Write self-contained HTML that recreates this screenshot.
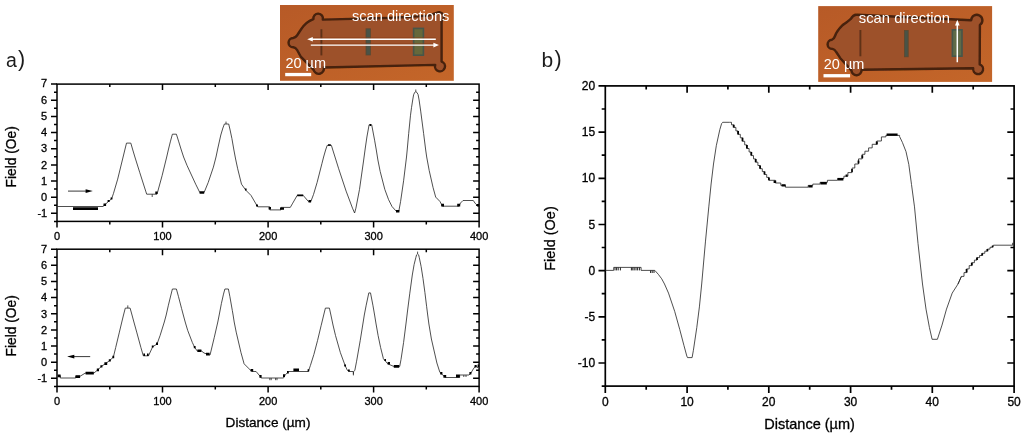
<!DOCTYPE html>
<html><head><meta charset="utf-8"><title>Field vs distance</title>
<style>
html,body{margin:0;padding:0;background:#fff}
body{width:1024px;height:438px;overflow:hidden}
svg{display:block}
text{font-family:"Liberation Sans",sans-serif;fill:#000}
.tk text,.lb{stroke:#000;stroke-width:0.3px}
.ax{stroke:#000;fill:none}
.cv{stroke:#222;stroke-width:0.8;fill:none;stroke-linejoin:round}
.mk{fill:#000}
</style></head><body>
<svg width="1024" height="438" viewBox="0 0 1024 438">
<defs>
<filter id="b1" x="-10%" y="-10%" width="120%" height="120%"><feGaussianBlur stdDeviation="0.6"/></filter>
<filter id="b2" x="-10%" y="-10%" width="120%" height="120%"><feGaussianBlur stdDeviation="0.6"/></filter>
<filter id="b3" x="-20%" y="-20%" width="140%" height="140%"><feGaussianBlur stdDeviation="6"/></filter>
</defs>
<rect width="1024" height="438" fill="#fff"/>

<!-- panel a top -->
<rect class="ax" stroke-width="1.5" x="57" y="84.1" width="422.1" height="137.3"/>
<path class="ax" stroke-width="1.5" d="M57 221.4v6M162.5 221.4v6M162.5 84.1v6M268.1 221.4v6M268.1 84.1v6M373.6 221.4v6M373.6 84.1v6M479.1 221.4v6M109.8 221.4v3M109.8 84.1v3M215.3 221.4v3M215.3 84.1v3M320.8 221.4v3M320.8 84.1v3M426.3 221.4v3M426.3 84.1v3M57 213.3h-6M479.1 213.3h-6M57 197.2h-6M479.1 197.2h-6M57 181h-6M479.1 181h-6M57 164.9h-6M479.1 164.9h-6M57 148.7h-6M479.1 148.7h-6M57 132.6h-6M479.1 132.6h-6M57 116.4h-6M479.1 116.4h-6M57 100.3h-6M479.1 100.3h-6M57 84.1h-6M57 221.4h-3M57 205.2h-3M479.1 205.2h-3M57 189.1h-3M479.1 189.1h-3M57 172.9h-3M479.1 172.9h-3M57 156.8h-3M479.1 156.8h-3M57 140.6h-3M479.1 140.6h-3M57 124.5h-3M479.1 124.5h-3M57 108.3h-3M479.1 108.3h-3M57 92.2h-3M479.1 92.2h-3"/>
<!-- panel a bottom -->
<rect class="ax" stroke-width="1.5" x="57" y="249.2" width="422.1" height="137.2"/>
<path class="ax" stroke-width="1.5" d="M57 386.4v6M162.5 386.4v6M162.5 249.2v6M268.1 386.4v6M268.1 249.2v6M373.6 386.4v6M373.6 249.2v6M479.1 386.4v6M109.8 386.4v3M109.8 249.2v3M215.3 386.4v3M215.3 249.2v3M320.8 386.4v3M320.8 249.2v3M426.3 386.4v3M426.3 249.2v3M57 378.3h-6M479.1 378.3h-6M57 362.2h-6M479.1 362.2h-6M57 346h-6M479.1 346h-6M57 329.9h-6M479.1 329.9h-6M57 313.8h-6M479.1 313.8h-6M57 297.6h-6M479.1 297.6h-6M57 281.5h-6M479.1 281.5h-6M57 265.3h-6M479.1 265.3h-6M57 249.2h-6M57 386.4h-3M57 370.3h-3M479.1 370.3h-3M57 354.1h-3M479.1 354.1h-3M57 338h-3M479.1 338h-3M57 321.8h-3M479.1 321.8h-3M57 305.7h-3M479.1 305.7h-3M57 289.6h-3M479.1 289.6h-3M57 273.4h-3M479.1 273.4h-3M57 257.3h-3M479.1 257.3h-3"/>
<g class="tk" font-size="11" text-anchor="end">
<text x="47.2" y="217">-1</text>
<text x="47.2" y="200.9">0</text>
<text x="47.2" y="184.7">1</text>
<text x="47.2" y="168.6">2</text>
<text x="47.2" y="152.4">3</text>
<text x="47.2" y="136.3">4</text>
<text x="47.2" y="120.1">5</text>
<text x="47.2" y="104">6</text>
<text x="47.2" y="87.3">7</text>
<text x="47.2" y="382">-1</text>
<text x="47.2" y="365.9">0</text>
<text x="47.2" y="349.7">1</text>
<text x="47.2" y="333.6">2</text>
<text x="47.2" y="317.5">3</text>
<text x="47.2" y="301.3">4</text>
<text x="47.2" y="285.2">5</text>
<text x="47.2" y="269">6</text>
<text x="47.2" y="252.9">7</text>
</g>
<g class="tk" font-size="11" text-anchor="middle">
<text x="57" y="239.9">0</text>
<text x="162.5" y="239.9">100</text>
<text x="268.1" y="239.9">200</text>
<text x="373.6" y="239.9">300</text>
<text x="479.1" y="239.9">400</text>
<text x="57" y="404.8">0</text>
<text x="162.5" y="404.8">100</text>
<text x="268.1" y="404.8">200</text>
<text x="373.6" y="404.8">300</text>
<text x="479.1" y="404.8">400</text>
</g>
<text class="lb" font-size="13.8" text-anchor="middle" transform="translate(16.2 156.8) rotate(-90)">Field (Oe)</text>
<text class="lb" font-size="13.8" text-anchor="middle" transform="translate(16.2 325.8) rotate(-90)">Field (Oe)</text>
<text class="lb" font-size="13.6" text-anchor="middle" x="268" y="426.7">Distance (µm)</text>
<text font-size="19.5" x="5.9" y="67" style="fill:#1c1c1c">a</text><text font-size="21.5" x="18" y="66.4" style="fill:#1c1c1c">)</text>
<polyline class="cv" points="57.2,206.5 103,206.5 104.8,204.8 109,201 111.6,198.8 113.4,193.7 117.7,179.1 123.1,157 124.8,150 126.5,143.1 130.8,143.1 132.8,150 134.9,157 139.7,172.3 145.7,191.1 146.7,194.2 157,194.2 157.9,191 162.1,175.7 166.7,157 168.3,150 170.3,141.9 172.4,134.2 176.4,134.2 178.8,141.9 181.3,150 183.6,157 187,165.4 195.7,184.2 199.8,192.5 204.1,192.5 208.2,182.5 213.4,167.1 216,157 217.9,148 220.8,135 222.9,128 224.4,124 228.7,124 230.1,130 231.9,138.5 233.9,150 235.6,159 237.7,168.8 241.5,184.2 245.8,190.2 251,195.4 257,205.7 257.8,206.8 269.8,206.8 269.8,209.9 281,209.9 281,207.4 290.3,207.4 292.3,203.9 297.2,195.4 303.2,195.4 308.3,201.4 310.9,201.4 313.5,194.5 317.1,182.5 321.9,163.7 323.6,157 325.6,150 327.2,145.4 331.4,145.4 332.8,150 335,157 338.7,168.8 346.1,191.1 352.5,208.2 354.6,213 355.9,208.2 359.5,189.4 363.4,162 365.3,148 366.9,137 369.1,124.8 371.7,124.8 374.6,140.2 376.3,150 377.9,160 380.2,171.5 384.8,189.4 388.6,199.7 392,206.5 396.3,211.3 398.8,211.3 400.6,201.4 403.6,180.8 406.5,157 407.2,150 408.7,133.4 410.5,115.2 411.5,107.7 412.7,100 413.6,94.8 414.7,92.4 415.8,91.7 416.9,92.4 418.1,94.6 419.1,100 420.7,111.1 423.6,133.4 425.7,150 426.7,157 429.2,170.5 433.1,187.7 435.7,197.1 439.9,201.4 442.5,206.2 458.8,206.2 460.5,203 463,200.5 473.3,200.5 475,203.1 477.6,205.7 479,206"/>
<path class="mk" d="M73 207.3h25v2.8h-25zM103.5 203.4h2.6v2.6h-2.6zM107.6 200h2v2h-2zM110.6 197.6h1.8v1.8h-1.8zM155.3 191.4h2.2v2.6h-2.2zM199.6 191.2h4.6v2.6h-4.6zM245 188.6h1.6v2h-1.6zM256 204.6h2v2h-2zM268.6 207h2.4v2.6h-2.4zM280 207.4h4v2.4h-4zM297.2 194.4h6v1.8h-6zM308.5 200h2.6v2.6h-2.6zM328 144.2h2.8v1.6h-2.8zM369.6 124h1.6v2h-1.6zM396 210h3.4v2.4h-3.4zM441.2 203.8h2.8v2.8h-2.8zM457.2 203.8h3v2.8h-3zM477 204h2v2.6h-2z"/>
<path d="M152.2 194.2v2.8M226 121.6v2.4M415.8 89.5v2.2" class="cv"/>
<path d="M68 191.1H88" stroke="#222" stroke-width="0.9" fill="none"/><path d="M92.8 191.1l-7.2-1.9v3.8z" fill="#000"/>
<polyline class="cv" points="57.7,375.8 60.3,375.8 60.3,378 75.7,378 75.7,376.3 80,376.3 85.1,373.2 93.7,373.2 97.9,369.8 101.4,366.4 105.7,363.5 109.9,360.4 113.4,357 115.7,347.5 119.4,332.1 121.8,322 123.5,315 125.3,308.1 130.1,308.1 132,315 133.9,322 136.7,332.1 140.9,347.5 143.3,355.8 148.5,355.8 152.7,346.7 157,344.1 160.1,335.5 164.3,322 166.2,315 168.4,305.2 170.9,295 172.4,289 176.4,289 178.5,296.7 181.6,308.6 183.3,315 185.2,322 187.7,330.4 192.3,342.4 194.7,347.5 197.3,351 201.5,351 204,353 210,355 211,351 214.3,337.3 217.8,322 219.2,315 221.4,303.5 223.5,294.1 224.9,289 228.4,289 229.9,296.7 232.3,310.4 233.1,315 234.2,322 236.2,332.1 241,352.7 244.1,363.8 248.4,368.1 251.8,371.5 256.1,371.5 260.4,376.6 261.2,378 283.5,378 285.2,375 288.6,371.5 308.3,371.5 310.4,365.5 313.9,354.4 317.5,340.7 321.2,325.3 322,322 323.7,315 325.4,308.1 329.4,308.1 330.9,315 333,325 335.5,335.5 340.4,352.7 345.1,365.5 347.2,370 348.6,371.5 353.2,371.5 353.4,374.2 353.6,371.5 354.8,370.5 356.6,361.2 360.2,340.7 363.2,322 364.3,315 366.2,305.2 368.8,292.9 370.5,292.9 372.9,305.2 374.6,315 375.9,323 378.1,335.5 380.6,347.5 383.4,358.7 387.7,363.8 393.7,366.4 399.7,366.4 401,359.5 403.6,342.4 406.2,322 407.4,312 409.8,293.2 412.3,275 414.1,264.6 415.8,257.7 416.6,254.8 417.6,253.9 418.6,254.8 419.3,257.7 421.1,266.4 423,278.5 424.9,292.4 426.6,306.3 427.7,315 428.9,324 431.4,339 436.9,363 439.9,372.4 444.2,376.3 445.9,377.5 459.6,377.5 459.6,375 469,375 470.8,373.2 473.3,369 475.9,365.5 478,368"/>
<path class="mk" d="M57.8 374.4h2.8v2.8h-2.8zM75.5 375.2h4.6v2.8h-4.6zM85.6 371.8h8.2v2.6h-8.2zM96.8 368.4h2.2v2.8h-2.2zM100.4 365.2h2v2.4h-2zM104.4 362.2h2.8v2.8h-2.8zM108.8 359.2h2v2.4h-2zM112.4 355.8h1.8v2.4h-1.8zM143.4 353.6h1.6v2.4h-1.6zM147 353.6h1.6v2.4h-1.6zM151.8 345.4h1.8v2.2h-1.8zM156 342.6h2v2.4h-2zM193.8 346h1.8v2.2h-1.8zM197.4 349.4h4v2.6h-4zM206 352.8h3.6v2.6h-3.6zM250.6 369h2.6v2.6h-2.6zM259.4 375h2.2v2.8h-2.2zM283 374.2h2v2.8h-2zM287 371h1.8v2.4h-1.8zM293.4 368.4h5.6v2.8h-5.6zM307.6 369.2h1.6v2.4h-1.6zM344.2 364.4h1.8v2.2h-1.8zM348 369.4h1.8v2.2h-1.8zM384.4 359h1.6v2h-1.6zM387.6 362h2.4v2.6h-2.4zM393.8 365h5.4v2.8h-5.4zM440.2 372h2.2v2.6h-2.2zM443.4 375h2.8v2.8h-2.8zM456 374.6h3.8v2.8h-3.8zM469.4 372h2v2.6h-2zM474.6 365h2v2.4h-2zM477.6 364.6h1.4v2.6h-1.4z"/>
<path d="M127.8 305.4v2.7M417.6 251.6v2.3M353.4 374v1.4M269.8 378v2.2M271.2 378v2.2M275.6 378v2.2M277 378v2.2M463.8 375v2M466 375v2" class="cv"/>
<path d="M72 356.6H90.2" stroke="#222" stroke-width="0.9" fill="none"/><path d="M67.1 356.6l7.2-1.9v3.8z" fill="#000"/>
<!-- panel b -->
<rect class="ax" stroke-width="1.7" x="605.3" y="85.9" width="408.8" height="300.2"/>
<path class="ax" stroke-width="1.7" d="M605.3 386.1v6.8M687.1 386.1v6.8M687.1 85.9v6.8M768.8 386.1v6.8M768.8 85.9v6.8M850.6 386.1v6.8M850.6 85.9v6.8M932.3 386.1v6.8M932.3 85.9v6.8M1014.1 386.1v6.8M646.2 386.1v3.6M646.2 85.9v3.6M727.9 386.1v3.6M727.9 85.9v3.6M809.7 386.1v3.6M809.7 85.9v3.6M891.5 386.1v3.6M891.5 85.9v3.6M973.2 386.1v3.6M973.2 85.9v3.6M605.3 363h-6.8M1014.1 363h-6.8M605.3 316.8h-6.8M1014.1 316.8h-6.8M605.3 270.6h-6.8M1014.1 270.6h-6.8M605.3 224.5h-6.8M1014.1 224.5h-6.8M605.3 178.3h-6.8M1014.1 178.3h-6.8M605.3 132.1h-6.8M1014.1 132.1h-6.8M605.3 85.9h-6.8M605.3 386.1h-3.6M605.3 339.9h-3.6M1014.1 339.9h-3.6M605.3 293.7h-3.6M1014.1 293.7h-3.6M605.3 247.5h-3.6M1014.1 247.5h-3.6M605.3 201.4h-3.6M1014.1 201.4h-3.6M605.3 155.2h-3.6M1014.1 155.2h-3.6M605.3 109h-3.6M1014.1 109h-3.6"/>
<g class="tk" font-size="12" text-anchor="end">
<text x="595.2" y="367.1">-10</text>
<text x="595.2" y="320.9">-5</text>
<text x="595.2" y="274.7">0</text>
<text x="595.2" y="228.6">5</text>
<text x="595.2" y="182.4">10</text>
<text x="595.2" y="136.2">15</text>
<text x="595.2" y="90">20</text>
</g>
<g class="tk" font-size="12" text-anchor="middle">
<text x="605.3" y="405.8">0</text>
<text x="687.1" y="405.8">10</text>
<text x="768.8" y="405.8">20</text>
<text x="850.6" y="405.8">30</text>
<text x="932.3" y="405.8">40</text>
<text x="1014.1" y="405.8">50</text>
</g>
<text class="lb" font-size="14.5" text-anchor="middle" transform="translate(554.7 238.5) rotate(-90)">Field (Oe)</text>
<text class="lb" font-size="14.5" text-anchor="middle" x="809.6" y="429">Distance (µm)</text>
<text font-size="21" x="541.4" y="67" style="fill:#1c1c1c">b</text><text font-size="21.5" x="554.4" y="66.4" style="fill:#1c1c1c">)</text>
<polyline class="cv" points="605.3,270.4 613.7,270.4 613.7,267.4 641.1,267.4 641.1,270.4 654.8,270.4 658.3,274.3 661.7,278.8 664.5,284 668.5,293.1 674.7,311.4 679.8,329.7 684,345.7 686.8,356 687.5,357.6 692.1,357.6 693.4,350.3 696.8,327.4 699.4,306.9 701.7,284 705.5,241.1 708.8,206.9 711.1,184 713.5,164 716.3,145.7 719.8,129.7 721.6,123.6 722.7,122.3 729.3,122.3"/>
<polyline class="cv" points="729.3,122.3 731.5,122.3 731.5,124.8 733.7,124.8 733.7,127.4 735.9,127.4 735.9,130.9 738.1,130.9 738.1,134.3 740.3,134.3 740.3,137.8 742.5,137.8 742.5,141.3 744.7,141.3 744.7,144.9 746.9,144.9 746.9,148.5 749.1,148.5 749.1,152 751.3,152 751.3,155.6 753.5,155.6 753.5,158.9 755.7,158.9 755.7,162.2 757.9,162.2 757.9,165.5 760.1,165.5 760.1,168.7 762.3,168.7 762.3,171.6 764.5,171.6 764.5,174.5 766.7,174.5 766.7,177.4 768.9,177.4 768.9,180.3 768.9,180.3 775.3,180.3 775.3,183 780.8,183 780.8,185.4 785.4,185.4 785.4,187.2 808.2,187.2 808.2,185.4 812.8,185.4 812.8,184.1 820.1,184.1 820.1,182.3 827.4,182.3 827.4,180.3 837.5,180.3 837.5,178.4 843.9,178.4 843.9,176.2 847.9,176.2 847.9,172.6 852.1,172.6 852.1,168 854.8,168 854.8,164 858.5,164 858.5,158.9 862.2,158.9 862.2,154.3 864.9,154.3 864.9,151.2 868.6,151.2 868.6,147.9 872.2,147.9 872.2,144.3 876.8,144.3 876.8,141 881.4,141 881.4,136.9 885.9,136.9 885.9,135.4 899.6,135.4 899.6,136.6 902.4,142.4 906,151.6 908.8,164.4 911.5,184.5 914.5,206.9 918,243.4 922.5,284 926,309.1 929.4,327.4 932.1,339.3 937.4,339.3 942,325.1 946.5,309.1 952.2,293.1 958,284 961.4,276.4"/>
<polyline class="cv" points="958,284 961.4,276.4 964,276.4 964,272.6 966.6,272.6 966.6,268.9 969.2,268.9 969.2,265.6 971.8,265.6 971.8,262.7 974.4,262.7 974.4,260.1 977,260.1 977,257.6 979.6,257.6 979.6,255.5 982.2,255.5 982.2,253.3 984.8,253.3 984.8,251.2 987.4,251.2 987.4,249.1 990,249.1 990,247.3 992.6,247.3 992.6,245.7 993.4,245.7 993.4,245.2 993.4,245.2 1012.8,245.2"/>
<path class="mk" d="M732.8 124.8h1.8v2.6h-1.8zM737.2 130.9h1.8v3.5h-1.8zM741.6 137.8h1.8v3.5h-1.8zM746 144.9h1.8v3.6h-1.8zM750.4 152h1.8v3.5h-1.8zM754.8 158.9h1.8v3.3h-1.8zM759.2 165.5h1.8v3.3h-1.8zM763.6 171.6h1.8v2.9h-1.8zM768 177.4h1.8v2.9h-1.8zM965.7 268.9h1.8v3.7h-1.8zM970.9 262.7h1.8v2.9h-1.8zM976.1 257.6h1.8v2.5h-1.8zM981.3 253.3h1.8v2.1h-1.8zM986.5 249.1h1.8v2.1h-1.8zM991.7 245.7h1.8v1.6h-1.8zM773.6 180.4h2.6v2.6h-2.6zM781.6 184.2h4v2.4h-4zM808.4 185.2h4.2v2.2h-4.2zM820.4 182h6.4v2.4h-6.4zM837.8 178h5.6v2.4h-5.6zM845.6 174.4h2v2.4h-2zM851.2 169h1.6v3h-1.6zM857.6 160.4h1.8v3h-1.8zM861.4 155.2h1.8v3h-1.8zM875.8 141.6h2v2.8h-2zM886.6 133.6h11v2.2h-11z"/>
<path d="M1012.8 242.8v2.4M615 267.4v3M616.6 267.4v3M618.2 267.4v3M620.4 267.4v3M631.4 267.4v3M632.8 267.4v3M634.2 267.4v3M636 267.4v3M637.6 267.4v3M639.4 267.4v3M650.6 270.4v2.6M652.2 270.4v2.6M654 270.4v2.6" class="cv" style="stroke-width:1"/>
<!-- inset a -->
<linearGradient id="ga" x1="0" y1="0" x2="1" y2="1"><stop offset="0" stop-color="#b75a27"/><stop offset="1" stop-color="#c46629"/></linearGradient>
<clipPath id="ca"><rect x="280" y="5" width="173.8" height="75.8"/></clipPath>
<rect x="280" y="5" width="173.8" height="75.8" fill="url(#ga)"/>
<g clip-path="url(#ca)">
<g filter="url(#b1)">
<path d="M322.8 19.6 C351 19 405 17.8 428 15.6 L436.6 13 A4.4 4.4 0 1 1 441.6 21 L441.6 61.6 A5 5 0 1 1 435.2 64.9 L323.8 67.5 A4.8 4.8 0 1 1 313.6 69.8 L300.5 56.3 L297 49.8 Q295.6 47.6 293.2 47.3 A4.65 4.65 0 0 1 293.2 38 Q295.6 37.6 297 35.5 L300.6 30 Q305.5 22 313.4 19.2 A4.8 4.8 0 1 1 322.8 19.6 Z" fill="#9d512c" stroke="#46200b" stroke-width="2.4" stroke-linejoin="round"/>
<path d="M321.4 29.2V55.4" stroke="#5e3118" stroke-width="1.9"/>
<rect x="366" y="28.8" width="4.4" height="26.2" fill="#4a5346" stroke="#5a4a30" stroke-width="0.8"/>
<rect x="413.6" y="28.4" width="9.8" height="26.8" fill="#66683a" stroke="#47564a" stroke-width="1.6"/>
</g>
<path d="M312 37.9H435.8M310.8 43.9H433" stroke="#8a3c14" stroke-width="0.7" fill="none"/>
<g stroke="#fff" stroke-width="1.35" fill="none"><path d="M311 39.2H435.8M310.8 45.1H434.5"/></g>
<path d="M307.2 39.2l5.6-2.2v4.4zM439 45.1l-5.6-2.3v4.6z" fill="#fff"/>
<rect x="285.2" y="72.9" width="26" height="3.3" fill="#fff"/>
<text x="352" y="21.2" font-size="14.7" textLength="97.4" lengthAdjust="spacingAndGlyphs" style="fill:#fff">scan directions</text>
<text x="285.4" y="67.6" font-size="14.5" textLength="40.6" lengthAdjust="spacingAndGlyphs" style="fill:#fff">20 µm</text>
</g>

<!-- inset b -->
<clipPath id="cb"><rect x="818.2" y="6.1" width="173.9" height="75.8"/></clipPath>
<rect x="818.2" y="6.1" width="173.9" height="75.8" fill="url(#ga)"/>
<g clip-path="url(#cb)">
<g filter="url(#b1)">
<path d="M857 14.8 L971.2 20.2 A5.6 5.6 0 1 1 979.9 25 L979.7 64.4 A5 5 0 1 1 973.2 68.3 L861.6 69.8 A4.6 4.6 0 1 1 851.4 70.4 L840.3 58.2 L836.2 52 Q834.8 49.4 832.4 48.9 A4.6 4.6 0 0 1 832 39.7 Q834 39 835 36 Q836.6 31 842.6 25.1 Q846.5 22.8 850.8 18.9 Q853.6 14 857 14.8 Z" fill="#9d512c" stroke="#46200b" stroke-width="2.4" stroke-linejoin="round"/>
<path d="M860.4 30V56.3" stroke="#5e3118" stroke-width="1.9"/>
<rect x="904.4" y="30.4" width="3.8" height="26.4" fill="#4a5346" stroke="#5a4a30" stroke-width="0.8"/>
<rect x="952.4" y="29.8" width="9.6" height="26.4" fill="#5f6a46" stroke="#47564a" stroke-width="1.6"/>
</g>
<path d="M957.3 24.5V62.3" stroke="#fff" stroke-width="1.5" fill="none"/>
<path d="M957.3 19.8l-2.3 5.6h4.6z" fill="#fff"/>
<rect x="823.5" y="74.1" width="26.6" height="3.3" fill="#fff"/>
<text x="858.8" y="23" font-size="14.8" textLength="91.2" lengthAdjust="spacingAndGlyphs" style="fill:#fff">scan direction</text>
<text x="823.8" y="68.5" font-size="14.5" textLength="40.6" lengthAdjust="spacingAndGlyphs" style="fill:#fff">20 µm</text>
</g>

</svg></body></html>
